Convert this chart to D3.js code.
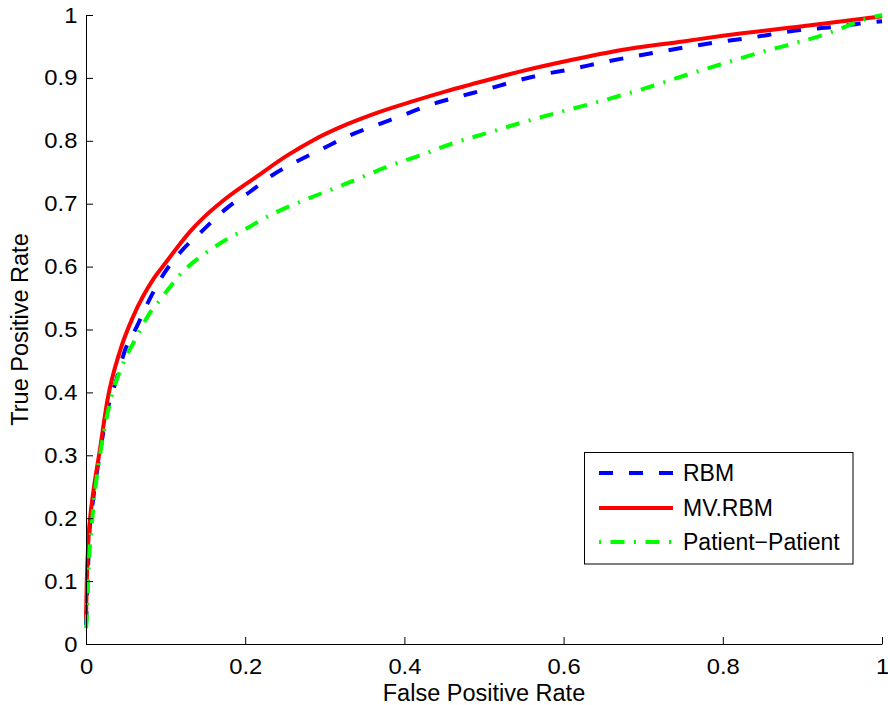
<!DOCTYPE html>
<html><head><meta charset="utf-8">
<script src="https://cdn.jsdelivr.net/npm/d3@7"></script>
<style>body{margin:0;background:#fff}svg{display:block}text{font-family:"Liberation Sans",Arial,Helvetica,sans-serif;fill:#000}</style>
</head><body>
<svg id="c" width="888" height="705"></svg>
<script>
const seriesNames = ["RBM", "MV.RBM", "Patient\u2212Patient"];
const rbmX = [0, 0.002, 0.004, 0.009, 0.017, 0.03, 0.037, 0.049, 0.064, 0.076, 0.097, 0.118, 0.147, 0.177, 0.206, 0.235, 0.2646, 0.298, 0.332, 0.365, 0.399, 0.432, 0.468, 0.501, 0.537, 0.572, 0.614, 0.65, 0.688, 0.723, 0.75, 0.794, 0.83, 0.897, 0.94, 0.976, 1];
const rbmY = [0.03, 0.10, 0.17, 0.23, 0.30, 0.388, 0.415, 0.467, 0.505, 0.538, 0.587, 0.622, 0.658, 0.693, 0.719, 0.746, 0.767, 0.788, 0.809, 0.825, 0.841, 0.857, 0.870, 0.881, 0.894, 0.905, 0.915, 0.925, 0.934, 0.942, 0.948, 0.957, 0.963, 0.976, 0.981, 0.987, 0.99];
const mvX = [0, 0.001, 0.003, 0.006, 0.009, 0.0176, 0.027, 0.043, 0.059, 0.085, 0.1, 0.118, 0.131, 0.147, 0.1725, 0.2144, 0.252, 0.2855, 0.3275, 0.369, 0.411, 0.453, 0.482, 0.545, 0.608, 0.671, 0.75, 0.8, 0.9, 1];
const mvY = [0.04, 0.10, 0.165, 0.21, 0.24, 0.31, 0.388, 0.467, 0.52, 0.581, 0.606, 0.636, 0.656, 0.677, 0.705, 0.743, 0.776, 0.801, 0.826, 0.846, 0.863, 0.879, 0.889, 0.910, 0.928, 0.944, 0.958, 0.967, 0.982, 0.998];
const ppX = [0, 0.001, 0.003, 0.007, 0.013, 0.02, 0.03, 0.047, 0.064, 0.08, 0.093, 0.118, 0.16, 0.198, 0.235, 0.275, 0.317, 0.352, 0.377, 0.42, 0.461, 0.503, 0.545, 0.593, 0.635, 0.677, 0.719, 0.755, 0.809, 0.851, 0.893, 0.935, 0.976, 1];
const ppY = [0.025, 0.04, 0.113, 0.186, 0.26, 0.319, 0.383, 0.447, 0.489, 0.526, 0.547, 0.587, 0.63, 0.658, 0.684, 0.706, 0.727, 0.745, 0.758, 0.777, 0.796, 0.812, 0.828, 0.845, 0.859, 0.874, 0.89, 0.905, 0.926, 0.942, 0.956, 0.972, 0.992, 1.0];
const xTicks = [0, 0.2, 0.4, 0.6, 0.8, 1];
const xTickLabels = ["0", "0.2", "0.4", "0.6", "0.8", "1"];
const yTicks = [0, 0.1, 0.2, 0.3, 0.4, 0.5, 0.6, 0.7, 0.8, 0.9, 1];
const yTickLabels = ["0", "0.1", "0.2", "0.3", "0.4", "0.5", "0.6", "0.7", "0.8", "0.9", "1"];
const xTitle = "False Positive Rate";
const yTitle = "True Positive Rate";

const svg = d3.select("#c");
const x = d3.scaleLinear().domain([0, 1]).range([86, 882]);
const y = d3.scaleLinear().domain([0, 1]).range([644, 15]);

const styles = [
  {color: "#0000ff", dash: "14,16", w: 4},
  {color: "#ff0000", dash: null, w: 4},
  {color: "#00ff00", dash: "14,9.5,2,9.5", w: 4}
];
const data = [
  rbmX.map((v, i) => [v, rbmY[i]]),
  mvX.map((v, i) => [v, mvY[i]]),
  ppX.map((v, i) => [v, ppY[i]])
];
const line = d3.line().x(d => x(d[0])).y(d => y(d[1])).curve(d3.curveMonotoneX);

data.forEach((d, i) => {
  svg.append("path").datum(d).attr("d", line)
    .attr("fill", "none").attr("stroke", styles[i].color)
    .attr("stroke-width", styles[i].w)
    .attr("stroke-dasharray", styles[i].dash);
});

// axes
const gx = svg.append("g").attr("transform", `translate(0,${y(0)})`)
  .call(d3.axisBottom(x).tickValues(xTicks).tickFormat((d, i) => xTickLabels[i])
    .tickSizeInner(-7).tickSizeOuter(0).tickPadding(14));
const gy = svg.append("g").attr("transform", `translate(${x(0)},0)`)
  .call(d3.axisLeft(y).tickValues(yTicks).tickFormat((d, i) => yTickLabels[i])
    .tickSizeInner(-7).tickSizeOuter(0).tickPadding(8));
[gx, gy].forEach(g => {
  g.select(".domain").attr("stroke", "#000").attr("stroke-width", 1);
  g.selectAll(".tick line").attr("stroke", "#000").attr("stroke-width", 1);
  g.selectAll(".tick text").attr("font-size", 22).attr("font-family", null)
    .attr("fill", "#000").attr("transform", "scale(1.08,1)");
  g.attr("font-family", null).attr("font-size", null);
});

svg.append("text").attr("x", (x(0) + x(1)) / 2).attr("y", 701)
  .attr("text-anchor", "middle").attr("font-size", 23.5).text(xTitle);
svg.append("text").attr("transform", `translate(28,${(y(0) + y(1)) / 2}) rotate(-90)`)
  .attr("text-anchor", "middle").attr("font-size", 23.5).text(yTitle);

// legend
const lg = svg.append("g");
lg.append("rect").attr("x", 584.5).attr("y", 452.5).attr("width", 268.5).attr("height", 111.5)
  .attr("fill", "#fff").attr("stroke", "#000").attr("stroke-width", 1);
const legY = [473, 508, 542];
seriesNames.forEach((n, i) => {
  lg.append("line").attr("x1", 599).attr("x2", 673).attr("y1", legY[i]).attr("y2", legY[i])
    .attr("stroke", styles[i].color).attr("stroke-width", styles[i].w)
    .attr("stroke-dasharray", i === 2 ? "2,9.5,14,9.5" : styles[i].dash);
  lg.append("text").attr("x", 683).attr("y", legY[i]).attr("dy", "0.36em")
    .attr("font-size", 23).text(n);
});
</script>
</body></html>
